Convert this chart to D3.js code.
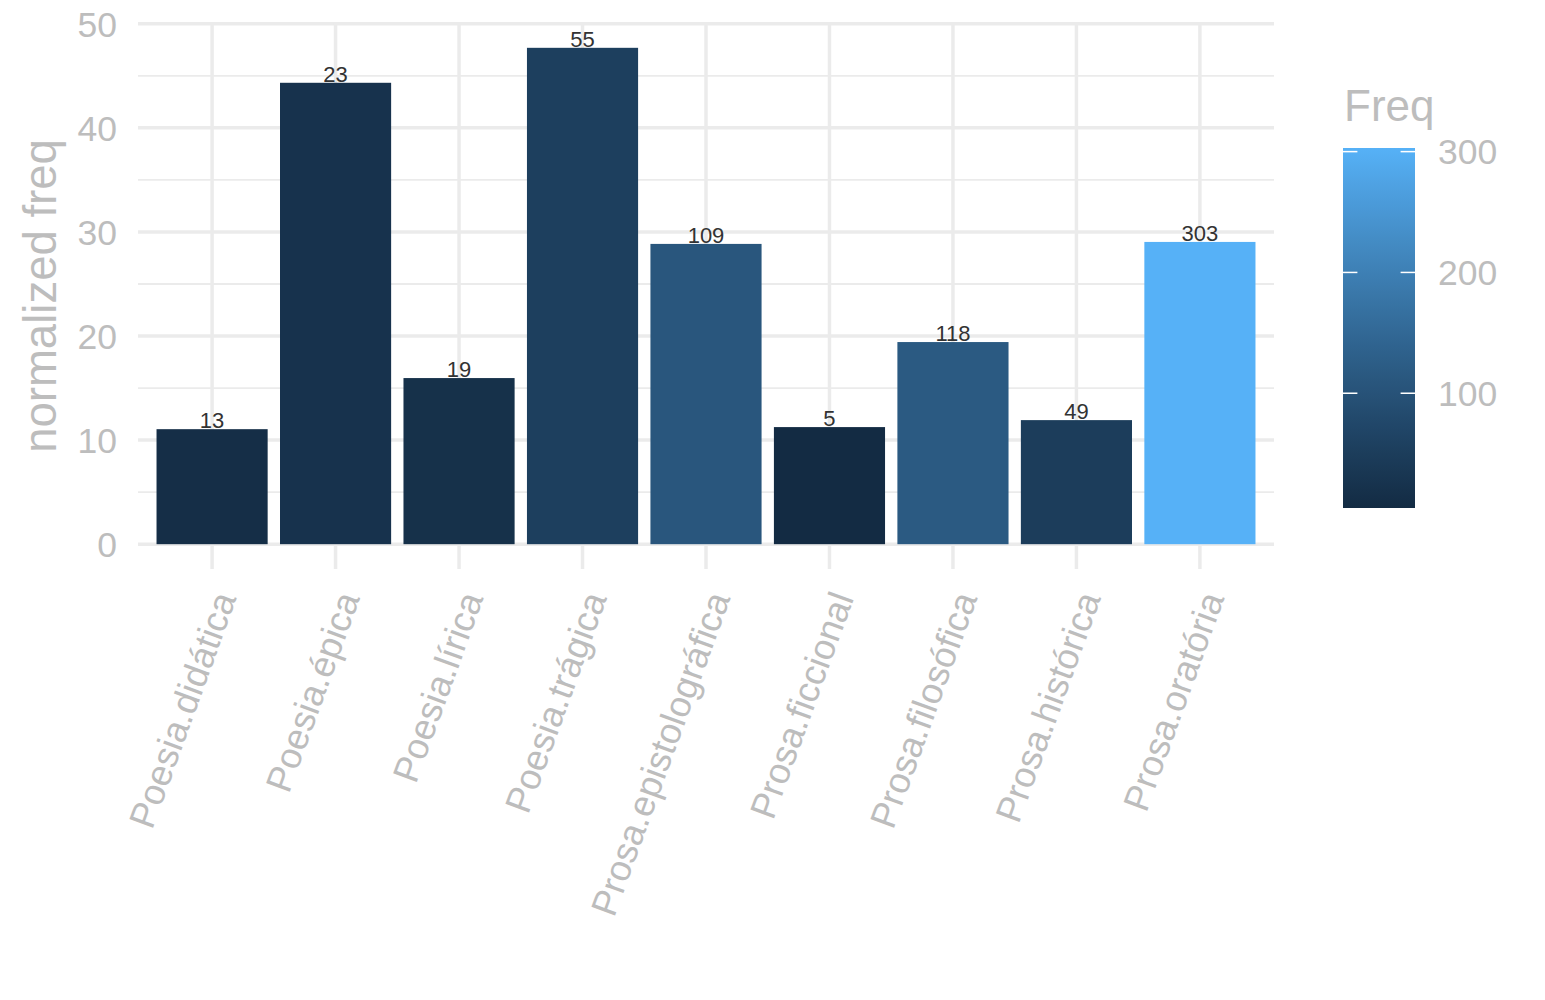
<!DOCTYPE html>
<html lang="en">
<head>
    <meta charset="UTF-8">
    <title>normalized freq</title>
    <script src="https://d3js.org/d3.v7.min.js"></script>
    <style>
        body { margin: 0; background: #fff; }
        text { font-family: "Liberation Sans", Arial, sans-serif; }
    </style>
</head>
<body>
    <div class="chart"></div>

    <script>
        const w = 1545;
        const h = 1000;

        // data
        const categories = ["Poesia.didática", "Poesia.épica", "Poesia.lírica", "Poesia.trágica",
            "Prosa.epistolográfica", "Prosa.ficcional", "Prosa.filosófica", "Prosa.histórica", "Prosa.oratória"];
        const normFreq = [11.05, 44.33, 15.96, 47.69, 28.85, 11.25, 19.42, 11.92, 29.04];
        const freq = [13, 23, 19, 55, 109, 5, 118, 49, 303];
        const yTicks = [0, 10, 20, 30, 40, 50];
        const yMinor = [5, 15, 25, 35, 45];
        const legendTicks = [100, 200, 300];

        const panel = { left: 138, right: 1274, top: 23, bottom: 569 };
        const grey = "#bdbdbd";
        const gridCol = "#ebebeb";

        const svg = d3.select(".chart")
            .append("svg")
            .attr("width", w)
            .attr("height", h);

        // scales (ggplot-like expansion)
        const yMax = d3.max(normFreq);
        const yScale = d3.scaleLinear()
            .domain([-0.05 * yMax, 1.05 * yMax])
            .range([panel.bottom, panel.top]);

        const xScale = d3.scaleBand()
            .domain(categories)
            .range([panel.left, panel.right])
            .paddingInner(0.1)
            .paddingOuter(0.15);

        const colour = d3.scaleLinear()
            .domain(d3.extent(freq))
            .range(["#132B43", "#56B1F7"])
            .interpolate(d3.interpolateLab);

        // grid
        svg.append("g").selectAll("line")
            .data(yMinor)
            .join("line")
            .attr("x1", panel.left).attr("x2", panel.right)
            .attr("y1", d => yScale(d)).attr("y2", d => yScale(d))
            .attr("stroke", gridCol).attr("stroke-width", 1.8);

        svg.append("g").selectAll("line")
            .data(yTicks)
            .join("line")
            .attr("x1", panel.left).attr("x2", panel.right)
            .attr("y1", d => yScale(d)).attr("y2", d => yScale(d))
            .attr("stroke", gridCol).attr("stroke-width", 3.5);

        svg.append("g").selectAll("line")
            .data(categories)
            .join("line")
            .attr("x1", d => xScale(d) + xScale.bandwidth() / 2)
            .attr("x2", d => xScale(d) + xScale.bandwidth() / 2)
            .attr("y1", panel.top).attr("y2", panel.bottom)
            .attr("stroke", gridCol).attr("stroke-width", 3.5);

        // bars
        svg.append("g").selectAll("rect")
            .data(categories)
            .join("rect")
            .attr("x", d => xScale(d))
            .attr("y", (d, i) => yScale(normFreq[i]))
            .attr("width", xScale.bandwidth())
            .attr("height", (d, i) => yScale(0) - yScale(normFreq[i]))
            .attr("fill", (d, i) => colour(freq[i]));

        // bar labels
        svg.append("g").selectAll("text")
            .data(categories)
            .join("text")
            .attr("x", d => xScale(d) + xScale.bandwidth() / 2)
            .attr("y", (d, i) => yScale(normFreq[i]) - 1)
            .attr("text-anchor", "middle")
            .attr("font-size", 22)
            .attr("fill", "#333")
            .text((d, i) => freq[i]);

        // y axis labels
        svg.append("g").selectAll("text")
            .data(yTicks)
            .join("text")
            .attr("x", 117)
            .attr("y", d => yScale(d))
            .attr("dy", "0.36em")
            .attr("text-anchor", "end")
            .attr("font-size", 35.5)
            .attr("fill", grey)
            .text(d => d);

        // x axis labels
        svg.append("g").selectAll("text")
            .data(categories)
            .join("text")
            .attr("transform", d => `translate(${xScale(d) + xScale.bandwidth() / 2},${panel.bottom + 20}) rotate(-70)`)
            .attr("dy", "0.72em")
            .attr("text-anchor", "end")
            .attr("font-size", 36.5)
            .attr("fill", grey)
            .text(d => d);

        // y title
        svg.append("text")
            .attr("transform", `translate(56,${(panel.top + panel.bottom) / 2}) rotate(-90)`)
            .attr("text-anchor", "middle")
            .attr("font-size", 45.5)
            .attr("fill", grey)
            .text("normalized freq");

        // legend
        const bar = { x: 1343, w: 72, top: 148, bottom: 508 };
        const legScale = d3.scaleLinear()
            .domain(d3.extent(freq))
            .range([bar.bottom, bar.top]);

        const grad = svg.append("defs").append("linearGradient")
            .attr("id", "freqGrad")
            .attr("x1", 0).attr("y1", 1).attr("x2", 0).attr("y2", 0);
        grad.selectAll("stop")
            .data(d3.range(0, 1.0001, 0.05))
            .join("stop")
            .attr("offset", d => d)
            .attr("stop-color", d => colour(colour.domain()[0] + d * (colour.domain()[1] - colour.domain()[0])));

        svg.append("rect")
            .attr("x", bar.x).attr("y", bar.top)
            .attr("width", bar.w).attr("height", bar.bottom - bar.top)
            .attr("fill", "url(#freqGrad)");

        const lt = svg.append("g").selectAll("g")
            .data(legendTicks)
            .join("g");
        lt.append("line")
            .attr("x1", bar.x).attr("x2", bar.x + bar.w / 5)
            .attr("y1", d => legScale(d)).attr("y2", d => legScale(d))
            .attr("stroke", "#fff").attr("stroke-width", 1.5);
        lt.append("line")
            .attr("x1", bar.x + bar.w * 4 / 5).attr("x2", bar.x + bar.w)
            .attr("y1", d => legScale(d)).attr("y2", d => legScale(d))
            .attr("stroke", "#fff").attr("stroke-width", 1.5);
        lt.append("text")
            .attr("x", 1438)
            .attr("y", d => legScale(d))
            .attr("dy", "0.36em")
            .attr("font-size", 35.5)
            .attr("fill", grey)
            .text(d => d);

        svg.append("text")
            .attr("x", 1344)
            .attr("y", 121)
            .attr("font-size", 44)
            .attr("fill", grey)
            .text("Freq");
    </script>
</body>
</html>
